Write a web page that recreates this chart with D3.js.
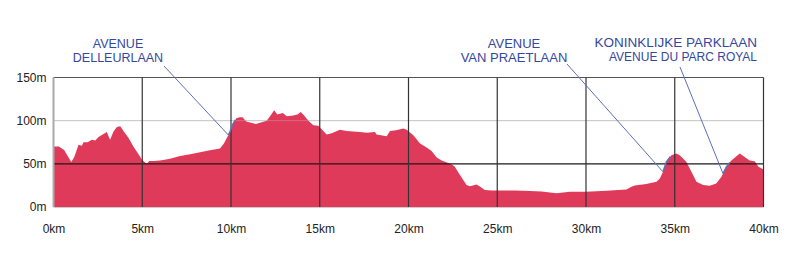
<!DOCTYPE html>
<html><head><meta charset="utf-8">
<script src="https://cdn.jsdelivr.net/npm/d3@7"></script>
<style>
html,body{margin:0;padding:0;background:#fff;}
svg{display:block;}
text{font-family:"Liberation Sans",Arial,sans-serif;}
</style></head>
<body>
<svg id="c" width="800" height="267"></svg>
<script>
const distanceKm = [0,0.3,0.6,1.0,1.17,1.41,1.6,1.69,1.92,2.16,2.35,2.54,3.0,3.19,3.38,3.57,3.76,3.98,4.23,4.5,4.79,4.98,5.13,5.26,5.39,5.63,6.0,6.57,7.13,7.7,8.26,8.82,9.38,9.6,9.94,10.12,10.3,10.5,10.65,10.86,11.4,11.78,12.01,12.2,12.43,12.61,12.92,13.14,13.51,13.74,13.93,14.12,14.36,14.64,14.92,15.39,15.67,16.14,16.5,17.27,17.64,18.11,18.2,18.77,18.96,19.3,19.71,19.9,20.27,20.65,21.02,21.3,21.59,21.87,22.43,22.6,22.9,23.27,23.45,23.84,24.0,24.3,24.7,26.0,26.84,27.5,28.34,29.09,30.0,31.16,32.28,32.56,32.75,33.4,33.97,34.16,34.34,34.53,34.81,35.09,35.28,35.65,35.94,36.22,36.6,36.97,37.34,37.63,37.91,38.19,38.66,38.94,39.22,39.5,39.72,40];
const elevationM = [70,70,66,52,58,72,71,75,75,78,77,81,87,78,87.5,92.7,93.5,87,80,70,61,55,52,50,53.4,53.4,54,56,59,61,63.5,65.8,67.7,73.5,87,96.5,102.7,104,104,99,96,98.5,100,105,112,107,109,105,106,107,110,106,100,94.6,94,84,85.5,89.6,88,87,86,87,84,82,88,89,90.8,89.6,83,73.5,69,65,57.3,54,49.6,47,37,25.4,24,26,24,19.6,19,19,18.5,18,16,17.7,17.7,18.8,20.4,23.4,25,26.5,29.2,33,40.7,52.3,60,62,60,52.3,40.7,29.2,25.4,24.6,27.3,35,46.5,54,62,58,54,53,46.5,43.5];
const xTicks = [0,5,10,15,20,25,30,35,40];
const xTickLabels = ["0km","5km","10km","15km","20km","25km","30km","35km","40km"];
const yTicks = [0,50,100,150];
const yTickLabels = ["0m","50m","100m","150m"];
const streetLabels = [["AVENUE","DELLEURLAAN"],["AVENUE","VAN PRAETLAAN"],["KONINKLIJKE PARKLAAN","AVENUE DU PARC ROYAL"]];
const streetRanges = [[9.85,10.25],[34.34,34.75],[37.72,38.1]];

const svg = d3.select("#c");
const L=53.5, R=763.5, T=77.5, B=207;
const x = d3.scaleLinear().domain([0,40]).range([L,R]);
const y = d3.scaleLinear().domain([0,150]).range([B,T]);
const pts = distanceKm.map((d,i)=>[d,elevationM[i]]);
const elevAt = k => { const i=d3.bisector(d=>d[0]).left(pts,k); if(i<=0) return pts[0][1]; if(i>=pts.length) return pts[pts.length-1][1]; const a=pts[i-1],b=pts[i]; return a[1]+(b[1]-a[1])*(k-a[0])/(b[0]-a[0]); };

// light 100m line under the fill
svg.append("line").attr("x1",L).attr("x2",R).attr("y1",y(100)).attr("y2",y(100)).attr("stroke","#c8c8c8").attr("stroke-width",1);

// area
svg.append("path").datum(pts)
  .attr("d", d3.area().x(d=>x(d[0])).y0(B).y1(d=>y(d[1])))
  .attr("fill","#e03a5a");

// grid
const g = svg.append("g");
g.append("line").attr("x1",L).attr("x2",R).attr("y1",y(100)).attr("y2",y(100)).attr("stroke","#c8c8c8").attr("stroke-width",1).attr("opacity",0.35);
g.append("line").attr("x1",L).attr("x2",R).attr("y1",y(50)).attr("y2",y(50)).attr("stroke","#1a1a1a").attr("stroke-width",1.2);
g.append("line").attr("x1",L).attr("x2",R).attr("y1",y(150)).attr("y2",y(150)).attr("stroke","#555").attr("stroke-width",1.2);
g.append("line").attr("x1",L).attr("x2",R).attr("y1",B+0.5).attr("y2",B+0.5).attr("stroke","#ccc").attr("stroke-width",1);
xTicks.filter(d=>d>0).forEach(d=>{
  g.append("line").attr("x1",x(d)).attr("x2",x(d)).attr("y1",T).attr("y2",B).attr("stroke","#333").attr("stroke-width",1.2);
});
g.append("line").attr("x1",L).attr("x2",L).attr("y1",T).attr("y2",B).attr("stroke","#aaa").attr("stroke-width",2);

// axes labels
const xAxis = d3.axisBottom(x).tickValues(xTicks).tickFormat((d,i)=>xTickLabels[i]).tickSize(0).tickPadding(0);
const xa = svg.append("g").attr("transform",`translate(0,${B})`).call(xAxis);
xa.select(".domain").remove();
xa.selectAll("text").attr("y",17).attr("dy","0.71em").attr("font-size",12).attr("fill","#222").style("font-family","Liberation Sans, Arial, sans-serif");
const yAxis = d3.axisLeft(y).tickValues(yTicks).tickFormat((d,i)=>yTickLabels[i]).tickSize(0).tickPadding(7);
const ya = svg.append("g").attr("transform",`translate(${L},0)`).call(yAxis);
ya.select(".domain").remove();
ya.selectAll("text").attr("font-size",12).attr("fill","#222").style("font-family","Liberation Sans, Arial, sans-serif");

// street annotations
const blue="#3448a0", lineBlue="#5b70b8";
// [x, y, anchor, size line1, size line2, leader start x, leader start y]
const labelPos = [[118,48,"middle",12.5,12.5,164,66],[514,48,"middle",13,13,567,64],[757,47,"end",13.5,12,680,67]];
streetLabels.forEach((lines,i)=>{
  const [cx,cy,anc,s1,s2,lx,ly]=labelPos[i];
  lines.forEach((t,j)=>{
    svg.append("text").attr("x",cx).attr("y",cy+j*14).attr("text-anchor",anc)
      .attr("font-size",j?s2:s1).attr("fill",blue).text(t);
  });
  const [k0,k1]=streetRanges[i];
  svg.append("line").attr("x1",lx).attr("y1",ly).attr("x2",x(k0)).attr("y2",y(elevAt(k0)))
    .attr("stroke",lineBlue).attr("stroke-width",1);
  const seg=[[k0,elevAt(k0)],...pts.filter(p=>p[0]>k0&&p[0]<k1),[k1,elevAt(k1)]];
  svg.append("path").datum(seg).attr("d",d3.line().x(d=>x(d[0])).y(d=>y(d[1])))
    .attr("fill","none").attr("stroke",lineBlue).attr("stroke-width",1.5);
});
</script>
</body></html>
